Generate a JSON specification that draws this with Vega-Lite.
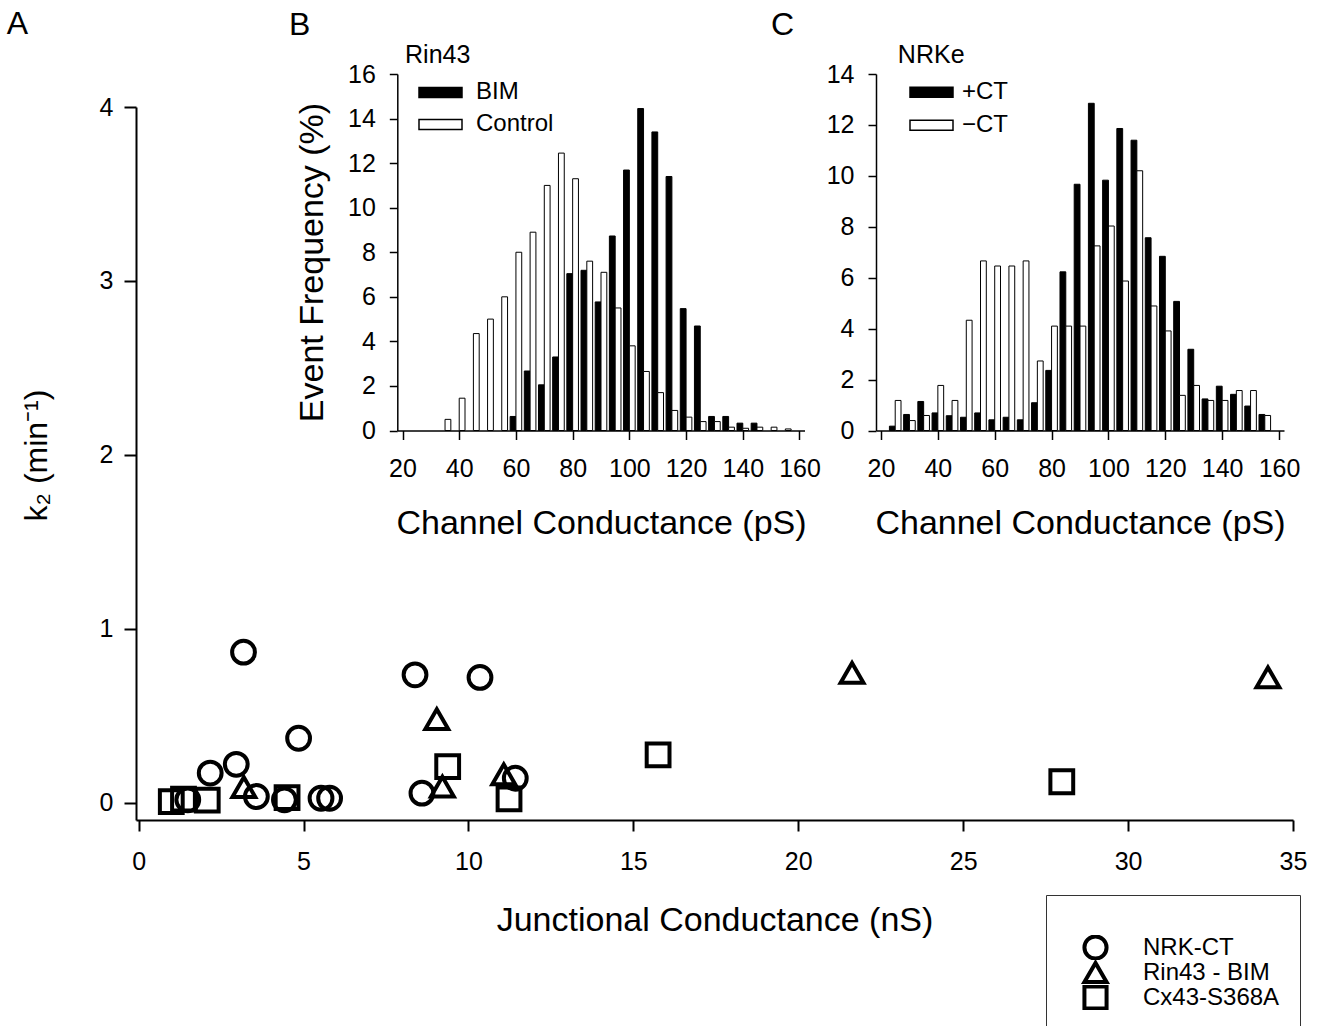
{
  "$schema": "https://vega.github.io/schema/vega-lite/v6.json",
  "width": 1157,
  "height": 713,
  "autosize": "none",
  "padding": {"left": 136, "top": 107, "right": 31, "bottom": 206},
  "background": "white",
  "config": {
    "view": {"stroke": null},
    "font": "Liberation Sans",
    "axis": {
      "domainColor": "black", "tickColor": "black", "labelColor": "black", "titleColor": "black",
      "labelFont": "Liberation Sans", "titleFont": "Liberation Sans",
      "labelFontSize": 25, "titleFontSize": 34, "titleFontWeight": "normal",
      "grid": false, "domainWidth": 1.5, "tickWidth": 1.5,
      "labelFlush": false, "labelOverlap": false
    },
    "legend": {"labelFont": "Liberation Sans", "labelColor": "black", "titleFont": "Liberation Sans"}
  },
  "datasets": {
    "scatter": [
      {"cell": "NRK-CT", "gj": 3.18, "k2": 0.865},
      {"cell": "NRK-CT", "gj": 8.38, "k2": 0.735},
      {"cell": "NRK-CT", "gj": 10.35, "k2": 0.72},
      {"cell": "NRK-CT", "gj": 4.85, "k2": 0.37},
      {"cell": "NRK-CT", "gj": 2.17, "k2": 0.17},
      {"cell": "NRK-CT", "gj": 2.96, "k2": 0.22},
      {"cell": "NRK-CT", "gj": 3.57, "k2": 0.035},
      {"cell": "NRK-CT", "gj": 8.59, "k2": 0.054},
      {"cell": "NRK-CT", "gj": 11.42, "k2": 0.14},
      {"cell": "NRK-CT", "gj": 1.49, "k2": 0.016},
      {"cell": "NRK-CT", "gj": 4.42, "k2": 0.016},
      {"cell": "NRK-CT", "gj": 5.53, "k2": 0.025},
      {"cell": "NRK-CT", "gj": 5.79, "k2": 0.025},
      {"cell": "Rin43 - BIM", "gj": 3.19, "k2": 0.089},
      {"cell": "Rin43 - BIM", "gj": 9.04, "k2": 0.48},
      {"cell": "Rin43 - BIM", "gj": 9.21, "k2": 0.092},
      {"cell": "Rin43 - BIM", "gj": 11.07, "k2": 0.163},
      {"cell": "Rin43 - BIM", "gj": 21.63, "k2": 0.746},
      {"cell": "Rin43 - BIM", "gj": 34.24, "k2": 0.72},
      {"cell": "Cx43-S368A", "gj": 0.99, "k2": 0.006},
      {"cell": "Cx43-S368A", "gj": 1.36, "k2": 0.02},
      {"cell": "Cx43-S368A", "gj": 2.08, "k2": 0.014},
      {"cell": "Cx43-S368A", "gj": 4.5, "k2": 0.029},
      {"cell": "Cx43-S368A", "gj": 9.37, "k2": 0.207},
      {"cell": "Cx43-S368A", "gj": 11.23, "k2": 0.021},
      {"cell": "Cx43-S368A", "gj": 15.75, "k2": 0.275},
      {"cell": "Cx43-S368A", "gj": 27.99, "k2": 0.12}
    ],
    "rin": [
      {"s": "Control", "c": 35, "f": 0.5}, {"s": "Control", "c": 40, "f": 1.45}, {"s": "Control", "c": 45, "f": 4.35},
      {"s": "Control", "c": 50, "f": 5.0}, {"s": "Control", "c": 55, "f": 6.0}, {"s": "Control", "c": 60, "f": 8.0},
      {"s": "Control", "c": 65, "f": 8.9}, {"s": "Control", "c": 70, "f": 11.0}, {"s": "Control", "c": 75, "f": 12.45},
      {"s": "Control", "c": 80, "f": 11.3}, {"s": "Control", "c": 85, "f": 7.6}, {"s": "Control", "c": 90, "f": 7.1},
      {"s": "Control", "c": 95, "f": 5.5}, {"s": "Control", "c": 100, "f": 3.8}, {"s": "Control", "c": 105, "f": 2.65},
      {"s": "Control", "c": 110, "f": 1.7}, {"s": "Control", "c": 115, "f": 0.9}, {"s": "Control", "c": 120, "f": 0.6},
      {"s": "Control", "c": 125, "f": 0.4}, {"s": "Control", "c": 130, "f": 0.4}, {"s": "Control", "c": 135, "f": 0.15},
      {"s": "Control", "c": 140, "f": 0.1}, {"s": "Control", "c": 145, "f": 0.15}, {"s": "Control", "c": 150, "f": 0.15},
      {"s": "Control", "c": 155, "f": 0.07},
      {"s": "BIM", "c": 60, "f": 0.63}, {"s": "BIM", "c": 65, "f": 2.67}, {"s": "BIM", "c": 70, "f": 2.05},
      {"s": "BIM", "c": 75, "f": 3.3}, {"s": "BIM", "c": 80, "f": 7.04}, {"s": "BIM", "c": 85, "f": 7.19},
      {"s": "BIM", "c": 90, "f": 5.77}, {"s": "BIM", "c": 95, "f": 8.73}, {"s": "BIM", "c": 100, "f": 11.69},
      {"s": "BIM", "c": 105, "f": 14.45}, {"s": "BIM", "c": 110, "f": 13.4}, {"s": "BIM", "c": 115, "f": 11.4},
      {"s": "BIM", "c": 120, "f": 5.47}, {"s": "BIM", "c": 125, "f": 4.69}, {"s": "BIM", "c": 130, "f": 0.63},
      {"s": "BIM", "c": 135, "f": 0.63}, {"s": "BIM", "c": 140, "f": 0.33}, {"s": "BIM", "c": 145, "f": 0.33}
    ],
    "nrk": [
      {"s": "+CT", "c": 25, "f": 0.17}, {"s": "+CT", "c": 30, "f": 0.63}, {"s": "+CT", "c": 35, "f": 1.14},
      {"s": "+CT", "c": 40, "f": 0.69}, {"s": "+CT", "c": 45, "f": 0.58}, {"s": "+CT", "c": 50, "f": 0.52},
      {"s": "+CT", "c": 55, "f": 0.69}, {"s": "+CT", "c": 60, "f": 0.42}, {"s": "+CT", "c": 65, "f": 0.52},
      {"s": "+CT", "c": 70, "f": 0.42}, {"s": "+CT", "c": 75, "f": 1.09}, {"s": "+CT", "c": 80, "f": 2.36},
      {"s": "+CT", "c": 85, "f": 6.23}, {"s": "+CT", "c": 90, "f": 9.67}, {"s": "+CT", "c": 95, "f": 12.85},
      {"s": "+CT", "c": 100, "f": 9.83}, {"s": "+CT", "c": 105, "f": 11.86}, {"s": "+CT", "c": 110, "f": 11.4},
      {"s": "+CT", "c": 115, "f": 7.57}, {"s": "+CT", "c": 120, "f": 6.84}, {"s": "+CT", "c": 125, "f": 5.07},
      {"s": "+CT", "c": 130, "f": 3.19}, {"s": "+CT", "c": 135, "f": 1.24}, {"s": "+CT", "c": 140, "f": 1.74},
      {"s": "+CT", "c": 145, "f": 1.42}, {"s": "+CT", "c": 150, "f": 0.96}, {"s": "+CT", "c": 155, "f": 0.63},
      {"s": "−CT", "c": 25, "f": 1.18}, {"s": "−CT", "c": 30, "f": 0.39}, {"s": "−CT", "c": 35, "f": 0.59},
      {"s": "−CT", "c": 40, "f": 1.77}, {"s": "−CT", "c": 45, "f": 1.18}, {"s": "−CT", "c": 50, "f": 4.33},
      {"s": "−CT", "c": 55, "f": 6.66}, {"s": "−CT", "c": 60, "f": 6.46}, {"s": "−CT", "c": 65, "f": 6.46},
      {"s": "−CT", "c": 70, "f": 6.66}, {"s": "−CT", "c": 75, "f": 2.73}, {"s": "−CT", "c": 80, "f": 4.1},
      {"s": "−CT", "c": 85, "f": 4.1}, {"s": "−CT", "c": 90, "f": 4.1}, {"s": "−CT", "c": 95, "f": 7.25},
      {"s": "−CT", "c": 100, "f": 8.03}, {"s": "−CT", "c": 105, "f": 5.87}, {"s": "−CT", "c": 110, "f": 10.2},
      {"s": "−CT", "c": 115, "f": 4.89}, {"s": "−CT", "c": 120, "f": 3.91}, {"s": "−CT", "c": 125, "f": 1.38},
      {"s": "−CT", "c": 130, "f": 1.77}, {"s": "−CT", "c": 135, "f": 1.18}, {"s": "−CT", "c": 140, "f": 1.18},
      {"s": "−CT", "c": 145, "f": 1.57}, {"s": "−CT", "c": 150, "f": 1.57}, {"s": "−CT", "c": 155, "f": 0.59}
    ]
  },
  "layer": [
    {
      "data": {"name": "scatter"},
      "mark": {"type": "point", "filled": false, "stroke": "black", "strokeWidth": 4, "size": 520, "opacity": 1},
      "encoding": {
        "x": {"field": "gj", "type": "quantitative",
          "scale": {"domain": [-0.08, 35], "nice": false, "zero": false},
          "axis": {"orient": "bottom", "values": [0, 5, 10, 15, 20, 25, 30, 35], "title": "Junctional Conductance (nS)",
            "tickSize": 11, "labelPadding": 18, "titlePadding": 29, "domainWidth": 2, "tickWidth": 2}},
        "y": {"field": "k2", "type": "quantitative",
          "scale": {"domain": [-0.1, 4], "nice": false, "zero": false},
          "axis": {"orient": "left", "values": [0, 1, 2, 3, 4], "title": "k₂ (min⁻¹)", "titleFontSize": 32, "titleY": 348,
            "tickSize": 12, "labelPadding": 11, "titlePadding": 46, "domainWidth": 2, "tickWidth": 2}},
        "shape": {"field": "cell", "type": "nominal",
          "scale": {"domain": ["NRK-CT", "Rin43 - BIM", "Cx43-S368A"], "range": ["circle", "triangle-up", "square"]},
          "legend": {"orient": "none", "legendX": 910, "legendY": 788, "title": " ", "titleFontSize": 14, "titlePadding": 6,
            "padding": 20, "strokeColor": "#333", "symbolSize": 490, "symbolStrokeWidth": 4, "clipHeight": 25,
            "symbolStrokeColor": "black", "symbolFillColor": "transparent", "labelFontSize": 24, "labelOffset": 34,
            "rowPadding": 0, "symbolOffset": 16}}
      }
    },
    {
      "data": {"values": [{}]},
      "mark": {"type": "text", "text": "A", "fontSize": 32, "align": "left", "baseline": "alphabetic", "font": "Liberation Sans", "color": "black"},
      "encoding": {
        "x": {"datum": -4.0, "type": "quantitative", "scale": {"domain": [-0.08, 35], "nice": false, "zero": false}, "axis": null},
        "y": {"datum": 4.417, "type": "quantitative", "scale": {"domain": [-0.1, 4], "nice": false, "zero": false}, "axis": null}
      }
    },
    {
      "data": {"name": "rin"},
      "transform": [{"filter": "datum.s === 'BIM'"}],
      "mark": {"type": "bar", "orient": "vertical", "width": 5.8, "xOffset": -2.9, "stroke": "black", "strokeWidth": 1},
      "encoding": {
        "x": {"field": "c", "type": "quantitative",
          "scale": {"domain": [20, 160], "range": [261.5, 668.5], "nice": false, "zero": false},
          "axis": {"orient": "bottom", "offset": -389.5, "values": [20, 40, 60, 80, 100, 120, 140, 160],
            "title": "Channel Conductance (pS)", "tickSize": 9, "labelPadding": 17, "titlePadding": 25}},
        "y": {"field": "f", "type": "quantitative", "stack": null,
          "scale": {"domain": [0, 16], "range": [323.5, -33], "nice": false, "zero": false},
          "axis": {"orient": "left", "offset": -261.3, "values": [0, 2, 4, 6, 8, 10, 12, 14, 16],
            "title": "Event Frequency (%)", "titleY": 155, "tickSize": 8, "labelPadding": 14, "titlePadding": 18}},
        "fill": {"field": "s", "type": "nominal",
          "scale": {"domain": ["BIM", "Control"], "range": ["black", "white"]},
          "legend": {"orient": "none", "legendX": 282, "legendY": -30.3, "title": null, "clipHeight": 31.5,
            "symbolType": "M-1,-0.233H1V0.233H-1Z", "symbolSize": 1849, "symbolStrokeColor": "black",
            "symbolStrokeWidth": 1.5, "labelFontSize": 24, "labelOffset": 13, "rowPadding": 0, "padding": 0}}
      }
    },
    {
      "data": {"name": "rin"},
      "transform": [{"filter": "datum.s === 'Control'"}],
      "mark": {"type": "bar", "orient": "vertical", "width": 5.8, "xOffset": 2.9, "stroke": "black", "strokeWidth": 1},
      "encoding": {
        "x": {"field": "c", "type": "quantitative",
          "scale": {"domain": [20, 160], "range": [261.5, 668.5], "nice": false, "zero": false}, "axis": null},
        "y": {"field": "f", "type": "quantitative", "stack": null,
          "scale": {"domain": [0, 16], "range": [323.5, -33], "nice": false, "zero": false}, "axis": null},
        "fill": {"field": "s", "type": "nominal",
          "scale": {"domain": ["BIM", "Control"], "range": ["black", "white"]}, "legend": null}
      }
    },
    {
      "data": {"values": [{}]},
      "mark": {"type": "text", "text": "B", "fontSize": 32, "align": "left", "baseline": "alphabetic", "font": "Liberation Sans", "color": "black"},
      "encoding": {
        "x": {"datum": -17.3, "type": "quantitative", "scale": {"domain": [20, 160], "range": [261.5, 668.5], "nice": false, "zero": false}, "axis": null},
        "y": {"datum": 17.75, "type": "quantitative", "scale": {"domain": [0, 16], "range": [323.5, -33], "nice": false, "zero": false}, "axis": null}
      }
    },
    {
      "data": {"values": [{}]},
      "mark": {"type": "text", "text": "Rin43", "fontSize": 25, "align": "left", "baseline": "alphabetic", "font": "Liberation Sans", "color": "black"},
      "encoding": {
        "x": {"datum": 22.6, "type": "quantitative", "scale": {"domain": [20, 160], "range": [261.5, 668.5], "nice": false, "zero": false}, "axis": null},
        "y": {"datum": 16.48, "type": "quantitative", "scale": {"domain": [0, 16], "range": [323.5, -33], "nice": false, "zero": false}, "axis": null}
      }
    },
    {
      "data": {"name": "nrk"},
      "transform": [{"filter": "datum.s === '+CT'"}],
      "mark": {"type": "bar", "orient": "vertical", "width": 5.8, "xOffset": -2.9, "stroke": "black", "strokeWidth": 1},
      "encoding": {
        "x": {"field": "c", "type": "quantitative",
          "scale": {"domain": [20, 160], "range": [740, 1148], "nice": false, "zero": false},
          "axis": {"orient": "bottom", "offset": -389.5, "values": [20, 40, 60, 80, 100, 120, 140, 160],
            "title": "Channel Conductance (pS)", "tickSize": 9, "labelPadding": 17, "titlePadding": 25}},
        "y": {"field": "f", "type": "quantitative", "stack": null,
          "scale": {"domain": [0, 14], "range": [323.5, -33], "nice": false, "zero": false},
          "axis": {"orient": "left", "offset": -740, "values": [0, 2, 4, 6, 8, 10, 12, 14],
            "title": null, "tickSize": 8, "labelPadding": 14}},
        "fill": {"field": "s", "type": "nominal",
          "scale": {"domain": ["+CT", "−CT"], "range": ["black", "white"]},
          "legend": {"orient": "none", "legendX": 773, "legendY": -30.8, "title": null, "clipHeight": 32.3,
            "symbolType": "M-1,-0.233H1V0.233H-1Z", "symbolSize": 1849, "symbolStrokeColor": "black",
            "symbolStrokeWidth": 1.5, "labelFontSize": 24, "labelOffset": 8, "rowPadding": 0, "padding": 0}}
      }
    },
    {
      "data": {"name": "nrk"},
      "transform": [{"filter": "datum.s === '−CT'"}],
      "mark": {"type": "bar", "orient": "vertical", "width": 5.8, "xOffset": 2.9, "stroke": "black", "strokeWidth": 1},
      "encoding": {
        "x": {"field": "c", "type": "quantitative",
          "scale": {"domain": [20, 160], "range": [740, 1148], "nice": false, "zero": false}, "axis": null},
        "y": {"field": "f", "type": "quantitative", "stack": null,
          "scale": {"domain": [0, 14], "range": [323.5, -33], "nice": false, "zero": false}, "axis": null},
        "fill": {"field": "s", "type": "nominal",
          "scale": {"domain": ["+CT", "−CT"], "range": ["black", "white"]}, "legend": null}
      }
    },
    {
      "data": {"values": [{}]},
      "mark": {"type": "text", "text": "C", "fontSize": 32, "align": "left", "baseline": "alphabetic", "font": "Liberation Sans", "color": "black"},
      "encoding": {
        "x": {"datum": -16.0, "type": "quantitative", "scale": {"domain": [20, 160], "range": [740, 1148], "nice": false, "zero": false}, "axis": null},
        "y": {"datum": 15.53, "type": "quantitative", "scale": {"domain": [0, 14], "range": [323.5, -33], "nice": false, "zero": false}, "axis": null}
      }
    },
    {
      "data": {"values": [{}]},
      "mark": {"type": "text", "text": "NRKe", "fontSize": 25, "align": "left", "baseline": "alphabetic", "font": "Liberation Sans", "color": "black"},
      "encoding": {
        "x": {"datum": 27.5, "type": "quantitative", "scale": {"domain": [20, 160], "range": [740, 1148], "nice": false, "zero": false}, "axis": null},
        "y": {"datum": 14.43, "type": "quantitative", "scale": {"domain": [0, 14], "range": [323.5, -33], "nice": false, "zero": false}, "axis": null}
      }
    }
  ],
  "resolve": {
    "scale": {"x": "independent", "y": "independent", "fill": "independent", "shape": "independent"},
    "axis": {"x": "independent", "y": "independent"},
    "legend": {"fill": "independent", "shape": "independent"}
  }
}
